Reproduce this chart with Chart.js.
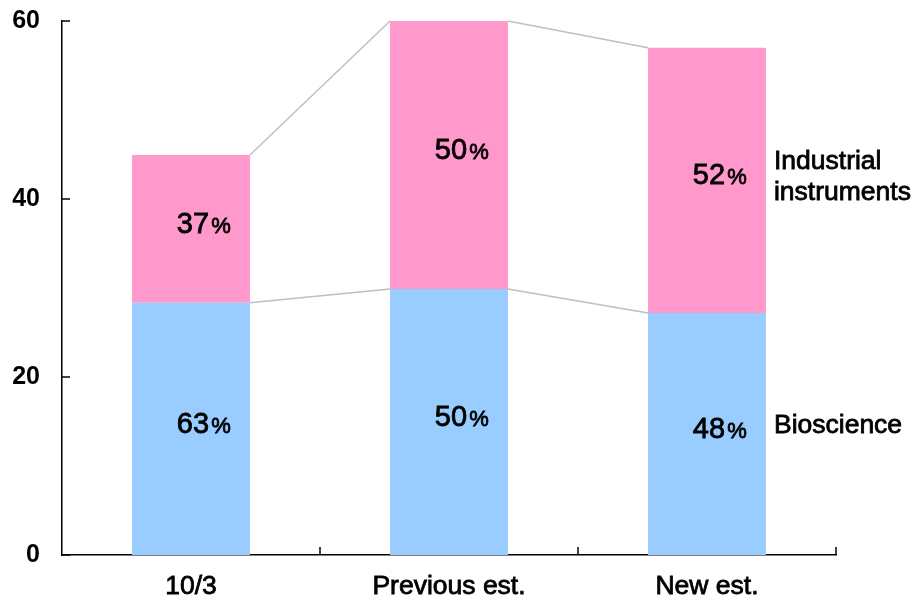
<!DOCTYPE html>
<html>
<head>
<meta charset="utf-8">
<script src="https://cdn.jsdelivr.net/npm/chart.js@4"></script>
<style>
  html, body { margin: 0; padding: 0; background: #fff; }
  #wrap { width: 916px; height: 596px; }
</style>
</head>
<body>
<div id="wrap"><canvas id="myChart" width="916" height="596"></canvas></div>
<script>
// categories along the x-axis
var periods = ["10/3", "Previous est.", "New est."];
// stacked segments
var bioscience = [28.35, 29.9, 27.2];
var industrial = [16.6, 30.1, 29.8];
// y tick values
var yTicks = [0, 20, 40, 60];

var FONT = "'Liberation Sans', Arial, sans-serif";

function heavyText(ctx, s, x, y) {
  ctx.fillText(s, x, y);
  ctx.strokeText(s, x, y);
}

// gray lines joining the tops of each segment, plus labels
var extras = {
  id: 'extras',
  afterDatasetsDraw: function(chart) {
    var ctx = chart.ctx;
    var area = chart.chartArea;
    var metas = [chart.getDatasetMeta(0), chart.getDatasetMeta(1)];

    ctx.save();
    ctx.strokeStyle = "#bfbfbf";
    ctx.lineWidth = 1.5;
    metas.forEach(function(meta) {
      for (var j = 0; j < meta.data.length - 1; j++) {
        var a = meta.data[j], b = meta.data[j + 1];
        ctx.beginPath();
        ctx.moveTo(a.x + a.width / 2, a.y);
        ctx.lineTo(b.x - b.width / 2, b.y);
        ctx.stroke();
      }
    });

    // inside ticks
    ctx.strokeStyle = "#000";
    ctx.lineWidth = 1.5;
    var ys = chart.scales.y;
    yTicks.forEach(function(v) {
      var y = ys.getPixelForValue(v);
      ctx.beginPath();
      ctx.moveTo(area.left, y);
      ctx.lineTo(area.left + 8, y);
      ctx.stroke();
    });
    var step = (area.right - area.left) / periods.length;
    for (var i = 1; i <= periods.length; i++) {
      var x = area.left + step * i;
      ctx.beginPath();
      ctx.moveTo(x, area.bottom);
      ctx.lineTo(x, area.bottom - 8);
      ctx.stroke();
    }

    // percentage labels
    ctx.fillStyle = "#000";
    ctx.strokeStyle = "#000";
    ctx.lineWidth = 0.8;
    ctx.textBaseline = "middle";
    for (var k = 0; k < periods.length; k++) {
      var total = bioscience[k] + industrial[k];
      [bioscience, industrial].forEach(function(series, di) {
        var bar = metas[di].data[k];
        var mid = (bar.y + bar.base) / 2 - 4;
        var num = String(Math.round(series[k] / total * 100));
        ctx.font = "29px " + FONT;
        var w = ctx.measureText(num).width;
        ctx.textAlign = "left";
        var x0 = bar.x + 2 - w / 2;
        heavyText(ctx, num, x0, mid);
        ctx.font = "22px " + FONT;
        heavyText(ctx, "%", x0 + w + 2, mid + 2);
      });
    }

    // series names beside the last bar
    var last = periods.length - 1;
    var bBar = metas[0].data[last], iBar = metas[1].data[last];
    var lx = bBar.x + bBar.width / 2 + 8;
    ctx.font = "26.5px " + FONT;
    ctx.textAlign = "left";
    var iMid = (iBar.y + iBar.base) / 2 - 4;
    heavyText(ctx, "Industrial", lx, iMid - 15);
    heavyText(ctx, "instruments", lx, iMid + 16);
    heavyText(ctx, "Bioscience", lx, (bBar.y + bBar.base) / 2 - 8);
    ctx.restore();
  }
};

new Chart(document.getElementById("myChart"), {
  type: 'bar',
  data: {
    labels: periods,
    datasets: [
      { label: "Bioscience", data: bioscience, backgroundColor: "#99ccff" },
      { label: "Industrial instruments", data: industrial, backgroundColor: "#ff99cc" }
    ]
  },
  options: {
    responsive: false,
    animation: false,
    events: [],
    layout: { padding: { top: 21, right: 80, left: 0, bottom: 0 } },
    datasets: { bar: { categoryPercentage: 1, barPercentage: 0.457 } },
    plugins: { legend: { display: false }, tooltip: { enabled: false } },
    scales: {
      x: {
        stacked: true,
        grid: { display: false, drawTicks: false },
        border: { display: true, color: "#000", width: 1.5 },
        ticks: { color: "#000", font: { family: FONT, size: 26.5 }, padding: 16,
                 textStrokeColor: "#000", textStrokeWidth: 0.8 },
        afterFit: function(s) { s.height = 41; s.paddingLeft = 0; s.paddingRight = 0; }
      },
      y: {
        stacked: true,
        min: 0,
        max: 60,
        grid: { display: false, drawTicks: false },
        border: { display: true, color: "#000", width: 1.5 },
        ticks: { stepSize: 20, color: "#000", font: { family: FONT, size: 25, weight: 'bold' }, padding: 22 },
        afterFit: function(s) { s.width = 62; s.paddingTop = 0; s.paddingBottom = 0; }
      }
    }
  },
  plugins: [extras]
});
</script>
</body>
</html>
